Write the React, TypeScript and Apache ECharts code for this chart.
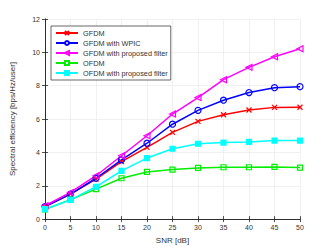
import React, { useEffect, useRef } from "react";
import * as echarts from "echarts";

const snr = [0, 5, 10, 15, 20, 25, 30, 35, 40, 45, 50];
const gfdm = [0.75, 1.5, 2.4, 3.45, 4.3, 5.2, 5.86, 6.26, 6.54, 6.7, 6.71];
const gfdmWpic = [0.75, 1.5, 2.45, 3.55, 4.55, 5.69, 6.52, 7.13, 7.59, 7.88, 7.94];
const gfdmProp = [0.8, 1.6, 2.6, 3.8, 5.0, 6.3, 7.29, 8.36, 9.1, 9.74, 10.22];
const ofdm = [0.58, 1.17, 1.8, 2.45, 2.83, 2.97, 3.07, 3.11, 3.11, 3.13, 3.09];
const ofdmProp = [0.6, 1.15, 1.94, 2.89, 3.66, 4.22, 4.52, 4.59, 4.63, 4.71, 4.71];
const names = [
  "GFDM",
  "GFDM with WPIC",
  "GFDM with proposed filter",
  "OFDM",
  "OFDM with proposed filter",
];
const xTicks = [0, 5, 10, 15, 20, 25, 30, 35, 40, 45, 50];
const yTicks = [0, 2, 4, 6, 8, 10, 12];

const TXT = "#333";
const AX = "#262626";
const FONT = "Liberation Sans, Arial, sans-serif";

export default function App() {
  const ref = useRef<HTMLDivElement>(null);
  useEffect(() => {
    const chart = echarts.init(ref.current!, null, { renderer: "svg" });
    const mk = (
      name: string,
      data: number[],
      color: string,
      symbol: string,
      fill: string,
      size: number
    ) => ({
      name,
      type: "line",
      data: snr.map((x, i) => [x, data[i]]),
      symbol,
      symbolSize: size,
      showAllSymbol: true,
      lineStyle: { color, width: 1.5 },
      itemStyle: { color: fill, borderColor: color, borderWidth: 1.2 },
      z: 3,
    });
    const axisCommon = {
      axisLine: { show: true, lineStyle: { color: AX, width: 0.8 } },
      axisTick: { show: true, inside: true, length: 3, lineStyle: { color: AX, width: 0.8 } },
    };
    const hollow = [true, true, true, true, false];
    chart.setOption({
      animation: false,
      textStyle: { fontFamily: FONT },
      grid: { left: 43, right: 32, top: 19, bottom: 28 },
      legend: {
        orient: "vertical",
        left: 51,
        top: 26,
        padding: [3, 3, 3, 4],
        itemWidth: 22,
        itemHeight: 5,
        itemGap: 2,
        backgroundColor: "#fff",
        borderColor: AX,
        borderWidth: 0.7,
        textStyle: { fontSize: 7.3, lineHeight: 8, color: TXT, fontFamily: FONT },
        data: names.map((n, i) =>
          hollow[i] ? { name: n, itemStyle: { color: "#fff" } } : { name: n }
        ),
      },
      xAxis: [
        {
          type: "value",
          min: 0,
          max: 50,
          interval: 5,
          name: "SNR [dB]",
          nameLocation: "middle",
          nameGap: 15,
          nameTextStyle: { fontSize: 8, color: TXT },
          axisLabel: {
            fontSize: 7,
            color: TXT,
            margin: 5,
            customValues: xTicks,
          },
          splitLine: { show: true, lineStyle: { color: "#e8e8e8", width: 0.6 } },
          ...axisCommon,
        },
        {
          type: "value",
          position: "top",
          min: 0,
          max: 50,
          interval: 5,
          axisLabel: { show: false },
          splitLine: { show: false },
          ...axisCommon,
        },
      ],
      yAxis: [
        {
          type: "value",
          min: 0,
          max: 12,
          interval: 2,
          name: "Spectral efficiency [bps/Hz/user]",
          nameLocation: "middle",
          nameGap: 29,
          nameTextStyle: { fontSize: 8, color: TXT },
          axisLabel: { fontSize: 7, color: TXT, margin: 5, customValues: yTicks },
          splitLine: { show: true, lineStyle: { color: "#e8e8e8", width: 0.6 } },
          ...axisCommon,
        },
        {
          type: "value",
          position: "right",
          min: 0,
          max: 12,
          interval: 2,
          axisLabel: { show: false },
          splitLine: { show: false },
          ...axisCommon,
        },
      ],
      series: [
        mk(names[0], gfdm, "#ff0000", "path://M0,0L10,10M10,0L0,10", "none", 5),
        mk(names[1], gfdmWpic, "#0000ff", "circle", "none", 6),
        mk(names[2], gfdmProp, "#ff00ff", "path://M0,5L10,0L10,10Z", "none", 6),
        mk(names[3], ofdm, "#00ee00", "rect", "none", 5),
        mk(names[4], ofdmProp, "#00ffff", "rect", "#00ffff", 5),
      ],
    });
    return () => chart.dispose();
  }, []);
  return (
    <div
      ref={ref}
      style={{ position: "absolute", left: 0, top: 0, width: 332, height: 249 }}
    />
  );
}
